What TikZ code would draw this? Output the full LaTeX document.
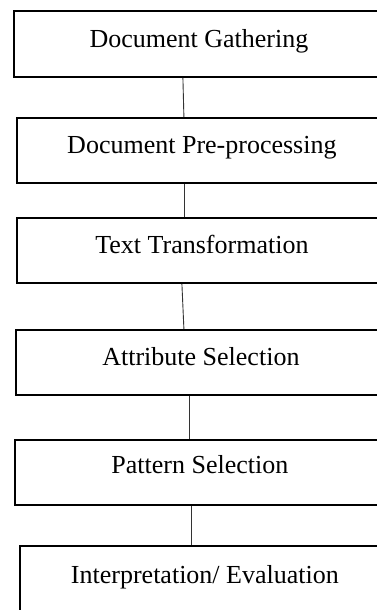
\documentclass[tikz,border=0pt]{standalone}
\usepackage{fontspec}
\setmainfont{Liberation Serif}
\usepackage{tikz}

\tikzset{
  stage/.style={draw, line width=1.8pt, anchor=north west, minimum width=370pt,
    inner xsep=0pt, inner ysep=0pt, text height=36pt, text depth=29pt,
    font=\fontsize{26}{30}\selectfont},
  link/.style={line width=0.9pt, black!80}
}

\begin{document}
\begin{tikzpicture}[x=1pt,y=1pt]
\useasboundingbox (0,0) rectangle (377,-610);
\node[stage, text height=37pt] (gather) at (13,-10) {Document Gathering};
\node[stage] (prep) at (16,-117) {Document Pre-processing};
\node[stage] (transf) at (16,-217) {Text Transformation};
\node[stage] (attr) at (15,-329) {Attribute Selection};
\node[stage, text height=34pt, text depth=31pt] (patt) at (14,-439) {Pattern Selection};
\node[stage, text height=38pt, text depth=27pt] (interp) at (19,-545) {Interpretation/ Evaluation};
\draw[link] ([xshift=-16pt]gather.south) -- ([xshift=-18pt]prep.north);
\draw[link] ([xshift=-17pt]prep.south) -- ([xshift=-17pt]transf.north);
\draw[link] ([xshift=-20pt]transf.south) -- ([xshift=-17pt]attr.north);
\draw[link] ([xshift=-11pt]attr.south) -- ([xshift=-10pt]patt.north);
\draw[link] ([xshift=-8pt]patt.south) -- ([xshift=-13pt]interp.north);
\end{tikzpicture}
\end{document}
